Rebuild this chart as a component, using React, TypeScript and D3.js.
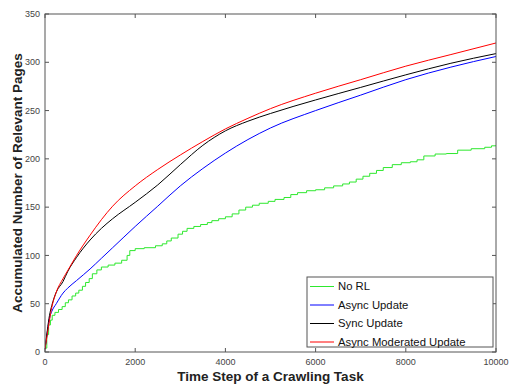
import React from 'react';
import * as d3 from 'd3';

// shared time axis for the smooth curves
const timeSteps = [0, 50, 100, 150, 250, 400, 500, 700, 1000, 1250, 1500, 2000, 2500, 3000, 3500, 4000, 4500, 5000, 6000, 7000, 8000, 9000, 10000];
const asyncModerated = [3, 18, 33, 46, 62, 76, 84, 100, 121, 137, 151, 172, 189, 204, 218, 231, 242, 252, 268, 282, 296, 308, 320];
const syncUpdate = [3, 22, 38, 48, 62, 73, 83, 98, 116, 128, 138, 155, 173, 194, 214, 229, 239, 247, 261, 274, 287, 299, 309];
const asyncUpdate = [3, 20, 35, 42, 50, 61, 66, 74, 86, 97, 108, 130, 151, 172, 190, 206, 220, 232, 250, 266, 282, 295, 306];

// No RL is a step curve
const noRlSteps = [0, 40, 80, 120, 160, 220, 300, 380, 450, 520, 600, 680, 750, 830, 900, 980, 1050, 1150, 1250, 1400, 1550, 1700, 1820, 1880, 2000, 2200, 2450, 2600, 2700, 2800, 2950, 3050, 3150, 3300, 3450, 3600, 3700, 3850, 4000, 4150, 4300, 4450, 4600, 4750, 4950, 5100, 5300, 5450, 5600, 5800, 6000, 6200, 6400, 6600, 6750, 6900, 7050, 7200, 7350, 7500, 7700, 7900, 8100, 8250, 8400, 8650, 8900, 9150, 9450, 9750, 9900, 10000];
const noRlValues = [4, 18, 28, 33, 38, 41, 44, 47, 51, 54, 58, 61, 64, 68, 72, 76, 81, 85, 88, 90, 92, 95, 100, 105, 107, 108, 110, 112, 115, 118, 122, 125, 128, 130, 132, 134, 136, 138, 140, 143, 147, 150, 152, 154, 156, 158, 160, 163, 165, 167, 168, 170, 172, 174, 176, 179, 182, 185, 188, 191, 194, 196, 197, 199, 203, 205, 205.5, 209, 210.5, 212, 213.5, 214];

const xTicks = [0, 2000, 4000, 6000, 8000, 10000];
const yTicks = [0, 50, 100, 150, 200, 250, 300, 350];

const legendNames = ['No RL', 'Async Update', 'Sync Update', 'Async Moderated Update'];
const legendColors = ['#2ee82e', '#0000ff', '#000000', '#ff0000'];

const W = 515;
const H = 385;
const margin = { top: 14, right: 19, bottom: 33, left: 45 };

export default function App() {
  const x = d3.scaleLinear().domain([0, 10000]).range([margin.left, W - margin.right]);
  const y = d3.scaleLinear().domain([0, 350]).range([H - margin.bottom, margin.top]);
  const x0 = margin.left, x1 = W - margin.right, y0 = H - margin.bottom, y1 = margin.top;

  const smooth = d3.line<[number, number]>()
    .x(d => x(d[0]))
    .y(d => y(d[1]))
    .curve(d3.curveMonotoneX);
  const step = d3.line<[number, number]>()
    .x(d => x(d[0]))
    .y(d => y(d[1]))
    .curve(d3.curveStepAfter);

  const pairs = (vals: number[]) => timeSteps.map((t, i) => [t, vals[i]] as [number, number]);
  const series = [
    { d: step(noRlSteps.map((t, i) => [t, noRlValues[i]] as [number, number])), c: legendColors[0] },
    { d: smooth(pairs(asyncUpdate)), c: legendColors[1] },
    { d: smooth(pairs(syncUpdate)), c: legendColors[2] },
    { d: smooth(pairs(asyncModerated)), c: legendColors[3] },
  ];

  const axisColor = '#555';
  const font = '"Liberation Sans", Arial, Helvetica, sans-serif';
  const tickLen = 4;

  // legend box
  const lg = { x: 307, y: 277, w: 186, h: 70 };
  const rowH = 18.5;

  return (
    <div style={{ position: 'absolute', left: 0, top: 0 }}>
      <svg width={W} height={H} style={{ display: 'block', background: '#fff' }} fontFamily={font}>
        <defs>
          <clipPath id="plot">
            <rect x={x0} y={y1} width={x1 - x0} height={y0 - y1} />
          </clipPath>
        </defs>

        {/* ticks on all four sides, pointing in */}
        {xTicks.map(t => (
          <g key={'xt' + t}>
            <line x1={x(t)} x2={x(t)} y1={y0} y2={y0 - tickLen} stroke={axisColor} strokeWidth={1} />
            <line x1={x(t)} x2={x(t)} y1={y1} y2={y1 + tickLen} stroke={axisColor} strokeWidth={1} />
            <text x={x(t)} y={y0 + 13} textAnchor="middle" fontSize={9} fill="#444">{t}</text>
          </g>
        ))}
        {yTicks.map(t => (
          <g key={'yt' + t}>
            <line x1={x0} x2={x0 + tickLen} y1={y(t)} y2={y(t)} stroke={axisColor} strokeWidth={1} />
            <line x1={x1} x2={x1 - tickLen} y1={y(t)} y2={y(t)} stroke={axisColor} strokeWidth={1} />
            <text x={x0 - 5} y={y(t)} dy="0.35em" textAnchor="end" fontSize={9} fill="#444">{t}</text>
          </g>
        ))}

        <g clipPath="url(#plot)" fill="none">
          {series.map((s, i) => (
            <path key={i} d={s.d || ''} stroke={s.c} strokeWidth={1} />
          ))}
        </g>

        <rect x={x0} y={y1} width={x1 - x0} height={y0 - y1} fill="none" stroke={axisColor} strokeWidth={1} />

        {/* legend */}
        <rect x={lg.x} y={lg.y} width={lg.w} height={lg.h} fill="#fff" stroke={axisColor} strokeWidth={1} />
        {legendNames.map((n, i) => {
          const ly = lg.y + 9.5 + i * rowH;
          return (
            <g key={n}>
              <line x1={lg.x + 3} x2={lg.x + 27} y1={ly} y2={ly} stroke={legendColors[i]} strokeWidth={1} />
              <text x={lg.x + 31} y={ly} dy="0.35em" fontSize={11.3} fill="#111">{n}</text>
            </g>
          );
        })}

        <text x={(x0 + x1) / 2} y={381} textAnchor="middle" fontSize={13.5} fontWeight="bold" fill="#222">
          Time Step of a Crawling Task
        </text>
        <text transform={`translate(22,${(y0 + y1) / 2}) rotate(-90)`} textAnchor="middle" fontSize={13.5} fontWeight="bold" fill="#222">
          Accumulated Number of Relevant Pages
        </text>
      </svg>
    </div>
  );
}
